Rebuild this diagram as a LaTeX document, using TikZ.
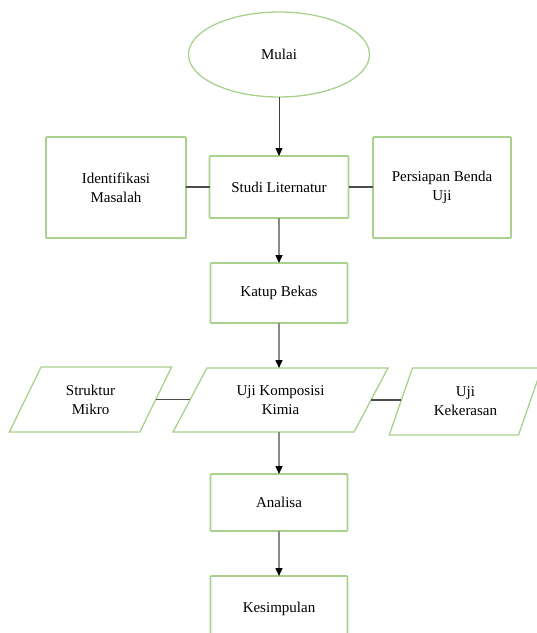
\documentclass[tikz,border=0pt]{standalone}
\usepackage{fontspec}
\setmainfont{Liberation Serif}
\usetikzlibrary{shapes.geometric,arrows.meta}
\definecolor{boxgreen}{HTML}{A9D18E}
\definecolor{linegrey}{HTML}{8A8A8A}
\begin{document}
\begin{tikzpicture}[x=1pt,y=-1pt,
  every node/.style={font=\fontsize{15}{19}\selectfont, align=center, outer sep=0pt, inner sep=2pt},
  box/.style={draw=boxgreen, line width=1.6pt, rectangle, rounded corners=0.8pt},
  oval/.style={draw=boxgreen, line width=1.3pt, ellipse},
  para/.style={draw=boxgreen, line width=1.3pt, trapezium, trapezium stretches=true,
    trapezium left angle=#1, trapezium right angle={180-#1}},
  flow/.style={draw=linegrey, line width=1.4pt, -{Triangle[width=7pt,length=8pt,color=black]}},
  thinflow/.style={draw=black!75, line width=0.8pt, -{Triangle[width=7pt,length=8pt,color=black]}},
  link/.style={draw=black!70, line width=1.2pt}
]
\useasboundingbox (0,0) rectangle (537,633);
\clip (0,0) rectangle (537,633);
\node[oval, minimum width=181, minimum height=85] (mulai) at (279,54.5) {Mulai};
\node[box, minimum width=139, minimum height=62] (studi) at (279,187) {Studi Liternatur};
\node[box, minimum width=140, minimum height=101] (ident) at (116,187.5) {Identifikasi\\Masalah};
\node[box, minimum width=138, minimum height=101] (persiapan) at (442,187.5) {Persiapan Benda\\Uji};
\node[box, minimum width=137, minimum height=60] (katup) at (279,293) {Katup Bekas};
\node[para=57.4, minimum width=215, minimum height=64] (ujikomp) at (280.5,400) {Uji Komposisi\\Kimia};
\node[para=63, minimum width=163, minimum height=65] (struktur) at (90.5,399.5) {Struktur\\Mikro};
\node[para=66, minimum width=153, minimum height=67] (ujikek) at (465.5,401.5) {Uji\\Kekerasan};
\node[box, minimum width=137, minimum height=57] (analisa) at (279,502.5) {Analisa};
\node[box, minimum width=137, minimum height=76, text depth=0pt] (kesimpulan) at (279,614) {\raisebox{13pt}{Kesimpulan}};
\draw[thinflow] (mulai.south) -- (studi.north);
\draw[flow] (studi.south) -- (katup.north);
\draw[flow] (katup.south) -- (katup.south |- ujikomp.top side);
\draw[flow] (analisa.north |- ujikomp.bottom side) -- (analisa.north);
\draw[flow] (analisa.south) -- (kesimpulan.north);
\draw[link] (ident.east |- studi.west) -- (studi.west);
\draw[link] (studi.east) -- (studi.east -| persiapan.west);
\draw[link] (struktur.right side) -- (struktur.right side -| ujikomp.left side);
\draw[link] (ujikomp.right side) -- (ujikomp.right side -| ujikek.left side);
\end{tikzpicture}
\end{document}
